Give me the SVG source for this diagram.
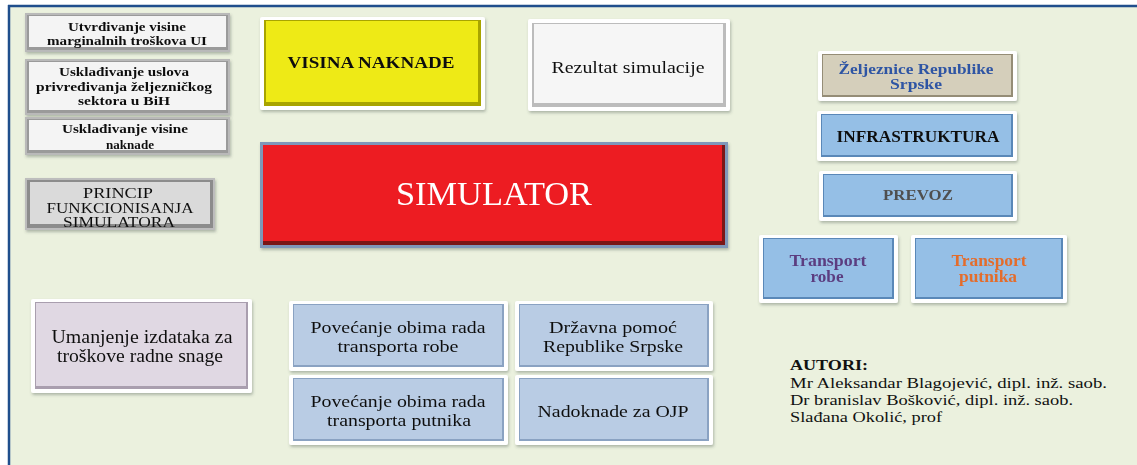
<svg xmlns="http://www.w3.org/2000/svg" width="1137" height="465" viewBox="0 0 1137 465">
<defs>
<filter id="sh" x="-10%" y="-10%" width="120%" height="130%">
<feDropShadow dx="1" dy="2" stdDeviation="1.5" flood-color="#3a4a40" flood-opacity="0.35"/>
</filter>
<style>
.t{font-family:"Liberation Serif","Times New Roman",serif;text-anchor:middle;fill:#111}
.l{font-family:"Liberation Serif","Times New Roman",serif;fill:#111}
.b{font-weight:bold}
.out{fill:#ffffff}
.outg{fill:#b9b9b9}
</style>
</defs>
<rect width="1137" height="465" fill="#ffffff"/>
<rect x="9" y="6" width="1128" height="459" fill="#ebf1de"/>
<line x1="8" y1="6" x2="1137" y2="6" stroke="#1f4e8c" stroke-width="2.5"/>
<line x1="9" y1="5" x2="9" y2="465" stroke="#1f4e8c" stroke-width="2.5"/>

<g id="utvrdivanje" filter="url(#sh)">
<rect x="25" y="13" width="205" height="39" class="outg"/>
<rect x="27" y="15" width="201" height="35" fill="#9a9a9a"/>
<rect x="29" y="16" width="197" height="31" fill="#f4f4f4"/>
<text class="t b" x="127" y="31" font-size="12" textLength="118" lengthAdjust="spacingAndGlyphs">Utvrđivanje visine</text>
<text class="t b" x="127" y="45" font-size="12" textLength="160" lengthAdjust="spacingAndGlyphs">marginalnih troškova UI</text>
</g>
<g id="uskladjivanje-uslova" filter="url(#sh)">
<rect x="25" y="59" width="205" height="56" class="outg"/>
<rect x="27" y="61" width="201" height="52" fill="#9a9a9a"/>
<rect x="29" y="62" width="197" height="48" fill="#f4f4f4"/>
<text class="t b" x="124" y="76" font-size="12" textLength="130" lengthAdjust="spacingAndGlyphs">Usklađivanje uslova</text>
<text class="t b" x="124" y="91" font-size="12" textLength="176" lengthAdjust="spacingAndGlyphs">privređivanja željezničkog</text>
<text class="t b" x="124" y="105" font-size="12" textLength="92" lengthAdjust="spacingAndGlyphs">sektora u BiH</text>
</g>
<g id="uskladjivanje-visine" filter="url(#sh)">
<rect x="25" y="117" width="205" height="38" class="outg"/>
<rect x="27" y="119" width="201" height="34" fill="#9a9a9a"/>
<rect x="29" y="120" width="197" height="30" fill="#f4f4f4"/>
<text class="t b" x="125" y="133" font-size="12" textLength="126" lengthAdjust="spacingAndGlyphs">Usklađivanje visine</text>
<text class="t b" x="130" y="149" font-size="12" textLength="48" lengthAdjust="spacingAndGlyphs">naknade</text>
</g>
<g id="princip" filter="url(#sh)">
<rect x="25" y="178" width="190" height="52" fill="#bdbdbd"/>
<rect x="27" y="180" width="186" height="48" fill="#8c8c8c"/>
<rect x="30" y="182" width="180" height="42" fill="#dadada"/>
<text class="t" x="118" y="198" font-size="14" textLength="70" lengthAdjust="spacingAndGlyphs">PRINCIP</text>
<text class="t" x="120" y="213" font-size="14" textLength="147" lengthAdjust="spacingAndGlyphs">FUNKCIONISANJA</text>
<text class="t" x="119" y="227" font-size="14" textLength="112" lengthAdjust="spacingAndGlyphs">SIMULATORA</text>
</g>

<g id="visina-naknade" filter="url(#sh)">
<rect x="260" y="17" width="225" height="93" rx="2" class="out"/>
<rect x="264" y="20" width="217" height="86" fill="#a8a400"/>
<rect x="266" y="21" width="212" height="81" fill="#eeea14"/>
<text class="t b" x="371" y="68" font-size="16" textLength="167" lengthAdjust="spacingAndGlyphs">VISINA  NAKNADE</text>
</g>
<g id="rezultat" filter="url(#sh)">
<rect x="528" y="19" width="202" height="92" rx="2" class="out"/>
<rect x="532" y="23" width="194" height="84" fill="#bcbcbc"/>
<rect x="534" y="24" width="189" height="79" fill="#f6f6f6"/>
<text class="t" x="628" y="73" font-size="17" textLength="153" lengthAdjust="spacingAndGlyphs">Rezultat simulacije</text>
</g>
<g id="simulator" filter="url(#sh)">
<rect x="260" y="142" width="468" height="106" fill="#7f97b9"/>
<rect x="263" y="145" width="462" height="100" fill="#7a1418"/>
<rect x="263" y="145" width="459" height="96" fill="#ed1c24"/>
<text x="494" y="205" font-family="Liberation Serif,'Times New Roman',serif" font-size="33" fill="#ffffff" text-anchor="middle" textLength="196" lengthAdjust="spacingAndGlyphs">SIMULATOR</text>
</g>

<g id="zeljeznice" filter="url(#sh)">
<rect x="818" y="51" width="199" height="50" rx="2" class="out"/>
<rect x="822" y="54" width="191" height="43" fill="#958d76"/>
<rect x="823" y="55" width="188" height="40" fill="#d5cfbb"/>
<text class="t b" x="916" y="74" font-size="15" style="fill:#2f55a4" textLength="155" lengthAdjust="spacingAndGlyphs">Željeznice Republike</text>
<text class="t b" x="916" y="89" font-size="15" style="fill:#2f55a4" textLength="52" lengthAdjust="spacingAndGlyphs">Srpske</text>
</g>
<g id="infrastruktura" filter="url(#sh)">
<rect x="817" y="111" width="200" height="50" rx="2" class="out"/>
<rect x="821" y="114" width="192" height="43" fill="#5a88b8"/>
<rect x="822" y="115" width="189" height="40" fill="#95bfe6"/>
<text class="t b" x="918" y="142" font-size="16" textLength="163" lengthAdjust="spacingAndGlyphs">INFRASTRUKTURA</text>
</g>
<g id="prevoz" filter="url(#sh)">
<rect x="819" y="171" width="198" height="50" rx="2" class="out"/>
<rect x="823" y="174" width="190" height="43" fill="#5a88b8"/>
<rect x="824" y="175" width="187" height="40" fill="#95bfe6"/>
<text class="t b" x="918" y="200" font-size="15" style="fill:#505050" textLength="70" lengthAdjust="spacingAndGlyphs">PREVOZ</text>
</g>
<g id="transport-robe" filter="url(#sh)">
<rect x="759" y="235" width="139" height="68" rx="2" class="out"/>
<rect x="763" y="238" width="131" height="61" fill="#5a88b8"/>
<rect x="764" y="239" width="128" height="58" fill="#95bfe6"/>
<text class="t b" x="828" y="266" font-size="16" style="fill:#5b3e80" textLength="77" lengthAdjust="spacingAndGlyphs">Transport</text>
<text class="t b" x="827" y="282" font-size="16" style="fill:#5b3e80" textLength="33" lengthAdjust="spacingAndGlyphs">robe</text>
</g>
<g id="transport-putnika" filter="url(#sh)">
<rect x="911" y="235" width="156" height="68" rx="2" class="out"/>
<rect x="915" y="238" width="148" height="61" fill="#5a88b8"/>
<rect x="916" y="239" width="145" height="58" fill="#95bfe6"/>
<text class="t b" x="989" y="266" font-size="16" style="fill:#e46c2c" textLength="75" lengthAdjust="spacingAndGlyphs">Transport</text>
<text class="t b" x="988" y="282" font-size="16" style="fill:#e46c2c" textLength="58" lengthAdjust="spacingAndGlyphs">putnika</text>
</g>

<g id="umanjenje" filter="url(#sh)">
<rect x="31" y="299" width="221" height="94" rx="2" class="out"/>
<rect x="35" y="302" width="213" height="87" fill="#a99eae"/>
<rect x="36" y="303" width="210" height="83" fill="#e0d8e3"/>
<text class="t" x="142" y="343" font-size="18" textLength="181" lengthAdjust="spacingAndGlyphs">Umanjenje izdataka za</text>
<text class="t" x="140" y="362" font-size="18" textLength="166" lengthAdjust="spacingAndGlyphs">troškove radne snage</text>
</g>
<g id="povecanje-robe" filter="url(#sh)">
<rect x="289" y="301" width="219" height="70" rx="2" class="out"/>
<rect x="293" y="304" width="211" height="63" fill="#8aa2c2"/>
<rect x="294" y="305" width="208" height="60" fill="#b9cce4"/>
<text class="t" x="398" y="333" font-size="17" textLength="175" lengthAdjust="spacingAndGlyphs">Povećanje obima rada</text>
<text class="t" x="398" y="352" font-size="17" textLength="121" lengthAdjust="spacingAndGlyphs">transporta robe</text>
</g>
<g id="drzavna-pomoc" filter="url(#sh)">
<rect x="515" y="301" width="198" height="70" rx="2" class="out"/>
<rect x="519" y="304" width="190" height="63" fill="#8aa2c2"/>
<rect x="520" y="305" width="187" height="60" fill="#b9cce4"/>
<text class="t" x="613" y="333" font-size="17" textLength="128" lengthAdjust="spacingAndGlyphs">Državna pomoć</text>
<text class="t" x="613" y="352" font-size="17" textLength="140" lengthAdjust="spacingAndGlyphs">Republike Srpske</text>
</g>
<g id="povecanje-putnika" filter="url(#sh)">
<rect x="289" y="375" width="219" height="70" rx="2" class="out"/>
<rect x="293" y="378" width="211" height="63" fill="#8aa2c2"/>
<rect x="294" y="379" width="208" height="60" fill="#b9cce4"/>
<text class="t" x="398" y="407" font-size="17" textLength="175" lengthAdjust="spacingAndGlyphs">Povećanje obima rada</text>
<text class="t" x="399" y="426" font-size="17" textLength="144" lengthAdjust="spacingAndGlyphs">transporta putnika</text>
</g>
<g id="nadoknade" filter="url(#sh)">
<rect x="515" y="375" width="198" height="70" rx="2" class="out"/>
<rect x="519" y="378" width="190" height="63" fill="#8aa2c2"/>
<rect x="520" y="379" width="187" height="60" fill="#b9cce4"/>
<text class="t" x="613" y="417" font-size="17" textLength="151" lengthAdjust="spacingAndGlyphs">Nadoknade za OJP</text>
</g>

<g id="autori">
<text class="l b" x="790" y="370" font-size="15" textLength="78" lengthAdjust="spacingAndGlyphs">AUTORI:</text>
<text class="l" x="790" y="388" font-size="14" textLength="317" lengthAdjust="spacingAndGlyphs">Mr Aleksandar  Blagojević,  dipl.  inž.  saob.</text>
<text class="l" x="790" y="405" font-size="14" textLength="283" lengthAdjust="spacingAndGlyphs">Dr branislav  Bošković,  dipl.  inž.  saob.</text>
<text class="l" x="790" y="422" font-size="14" textLength="152" lengthAdjust="spacingAndGlyphs">Slađana  Okolić,  prof</text>
</g>
<g id="connectors"/>
</svg>
